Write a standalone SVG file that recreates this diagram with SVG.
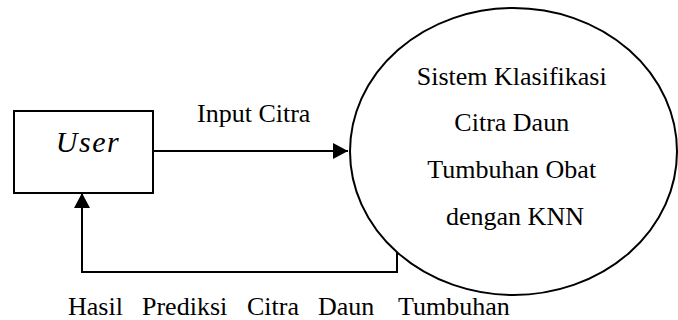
<svg xmlns="http://www.w3.org/2000/svg" width="678" height="320" viewBox="0 0 678 320">
<style>
.ln{fill:none;stroke:#000;stroke-width:2}
.t{font-family:"Liberation Serif","Times New Roman",serif;font-size:26px;fill:#000}
.u{font-size:30px;font-style:italic;letter-spacing:1.5px}
</style>
<defs>
<marker id="ah" markerWidth="15" markerHeight="16" refX="15" refY="8" orient="auto" markerUnits="userSpaceOnUse">
<path d="M0,0 L15,8 L0,16 Z" fill="#000"/>
</marker>
</defs>
<rect width="678" height="320" fill="#fff"/>
<g id="user">
<rect class="ln" x="14" y="111" width="139" height="82"/>
<text class="t u" x="88" y="152" text-anchor="middle">User</text>
</g>
<g id="system">
<ellipse class="ln" cx="513.5" cy="151.5" rx="163.5" ry="143.5"/>
<text class="t" text-anchor="middle">
<tspan x="515" y="85">Sistem Klasifikasi</tspan>
<tspan x="515" y="131">Citra Daun</tspan>
<tspan x="515" y="178">Tumbuhan Obat</tspan>
<tspan x="515" y="225">dengan KNN</tspan>
</text>
</g>
<g id="connectors">
<line class="ln" x1="153" y1="151" x2="348" y2="151" marker-end="url(#ah)"/>
<polyline class="ln" points="397,252 397,272 82,272 82,193" marker-end="url(#ah)"/>
<text class="t" x="197" y="122">Input Citra</text>
<text class="t" y="315"><tspan x="68">Hasil</tspan><tspan x="142">Prediksi</tspan><tspan x="247">Citra</tspan><tspan x="318">Daun</tspan><tspan x="398">Tumbuhan</tspan></text>
</g>
</svg>
